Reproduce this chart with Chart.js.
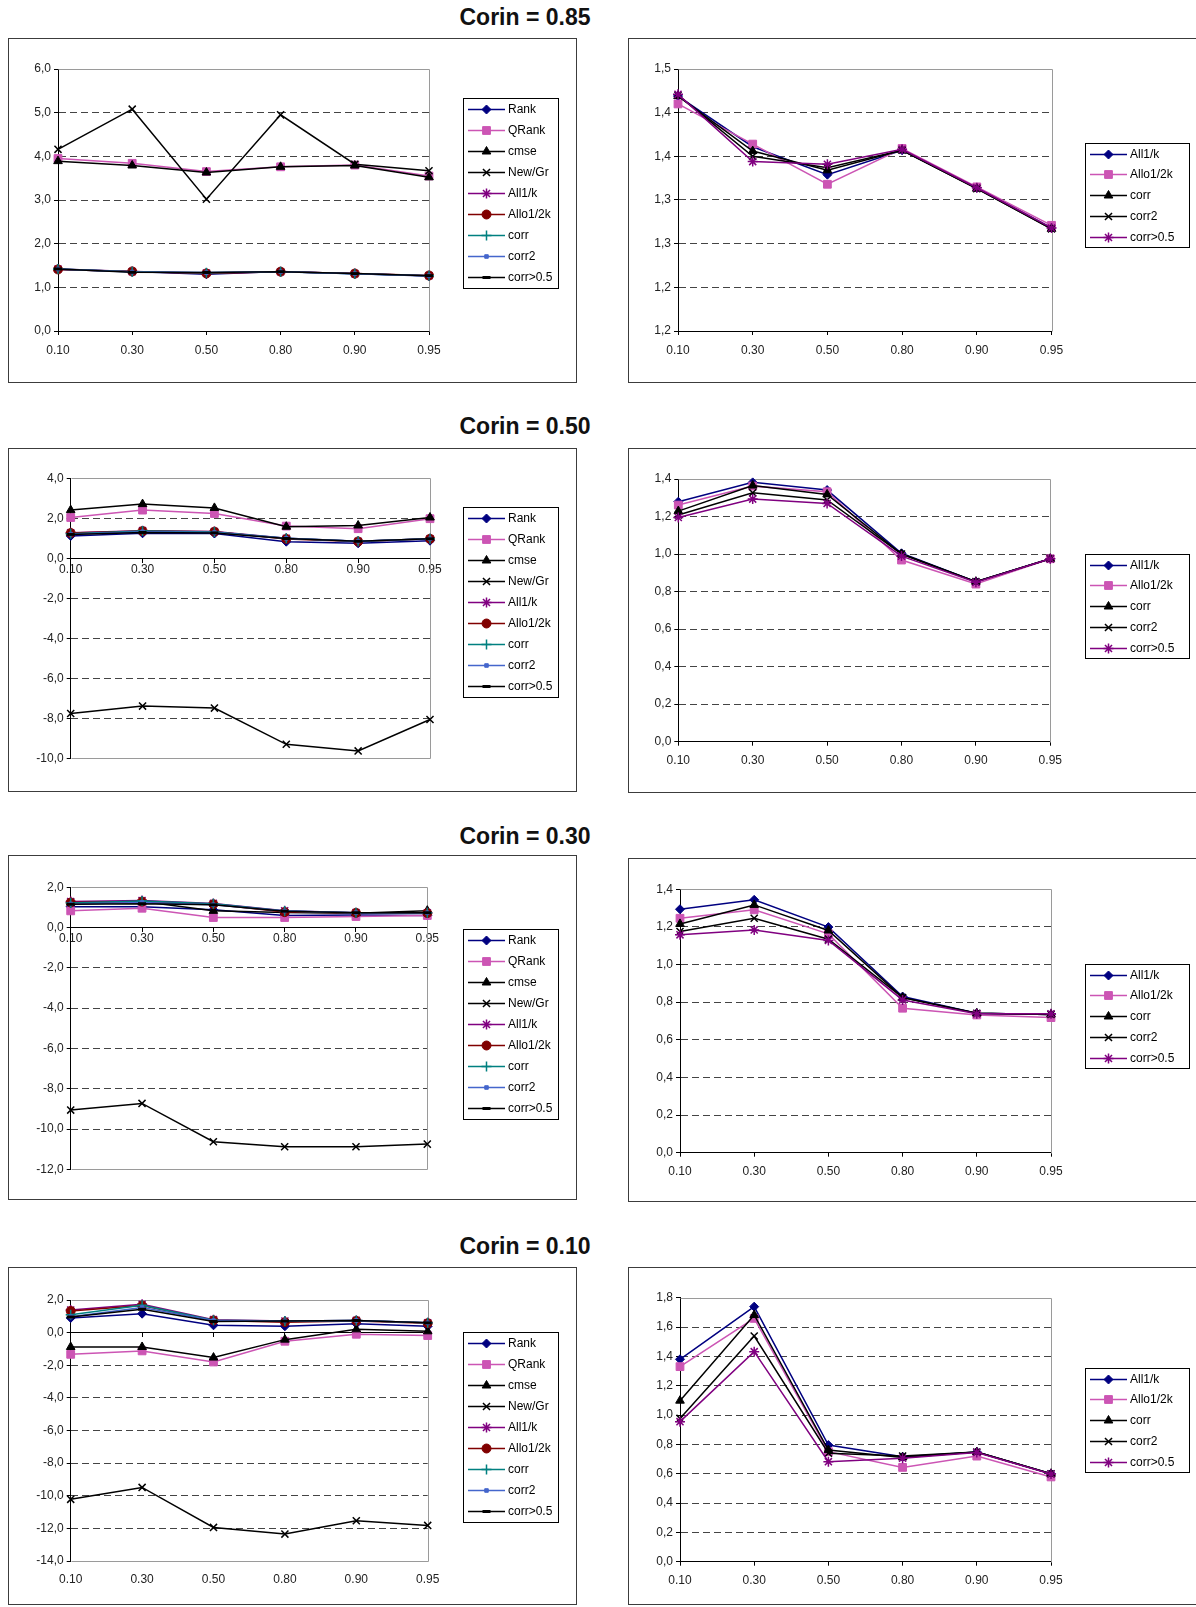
<!DOCTYPE html>
<html>
<head>
<meta charset="utf-8">
<script src="https://cdn.jsdelivr.net/npm/chart.js@4.4.1/dist/chart.umd.min.js"></script>
<style>
  body { margin: 0; background: #fff; width: 1196px; height: 1607px; position: relative; overflow: hidden;
         font-family: "Liberation Sans", Arial, sans-serif; }
  .title { position: absolute; left: 325px; width: 400px; text-align: center; font-weight: bold;
           font-size: 23px; line-height: 26px; color: #111; }
  .panel { position: absolute; border: 1px solid #3c3c3c; box-sizing: border-box; background: #fff; }
  .panel canvas { position: absolute; left: 0; top: 0; }
</style>
</head>
<body>
<div class="title" style="top:4px">Corin = 0.85</div>
<div class="title" style="top:413px">Corin = 0.50</div>
<div class="title" style="top:823px">Corin = 0.30</div>
<div class="title" style="top:1233px">Corin = 0.10</div>

<script>
const xLabels = ['0.10', '0.30', '0.50', '0.80', '0.90', '0.95'];
const leftNames = ['Rank', 'QRank', 'cmse', 'New/Gr', 'All1/k', 'Allo1/2k', 'corr', 'corr2', 'corr>0.5'];
const rightNames = ['All1/k', 'Allo1/2k', 'corr', 'corr2', 'corr>0.5'];

// Corin = 0.85
const rank85    = [1.41, 1.36, 1.30, 1.36, 1.31, 1.26];
const qrank85   = [3.95, 3.84, 3.65, 3.76, 3.80, 3.55];
const cmse85    = [3.89, 3.79, 3.63, 3.76, 3.79, 3.52];
const newgr85   = [4.16, 5.08, 3.02, 4.95, 3.82, 3.67];
const all1k85   = [1.419, 1.361, 1.329, 1.357, 1.314, 1.268];
const allo12k85 = [1.410, 1.364, 1.318, 1.359, 1.315, 1.271];
const corr85    = [1.419, 1.356, 1.334, 1.357, 1.313, 1.267];
const corr2_85  = [1.420, 1.350, 1.337, 1.357, 1.313, 1.267];
const corrGt85  = [1.421, 1.344, 1.341, 1.358, 1.314, 1.268];

// Corin = 0.50
const rank50    = [1.12, 1.25, 1.24, 0.83, 0.75, 0.88];
const qrank50   = [2.04, 2.41, 2.24, 1.61, 1.48, 1.98];
const cmse50    = [2.41, 2.71, 2.52, 1.58, 1.64, 2.04];
const newgr50   = [-7.76, -7.39, -7.49, -9.30, -9.63, -8.06];
const all1k50   = [1.279, 1.382, 1.341, 1.004, 0.853, 0.975];
const allo12k50 = [1.261, 1.362, 1.332, 0.968, 0.840, 0.975];
const corr50    = [1.229, 1.365, 1.318, 1.000, 0.853, 0.975];
const corr2_50  = [1.208, 1.327, 1.288, 1.000, 0.853, 0.975];
const corrGt50  = [1.195, 1.293, 1.270, 0.989, 0.850, 0.975];

// Corin = 0.30
const rank30    = [1.04, 1.04, 0.88, 0.60, 0.63, 0.60];
const qrank30   = [0.83, 0.96, 0.50, 0.50, 0.55, 0.60];
const cmse30    = [1.24, 1.29, 0.83, 0.75, 0.71, 0.84];
const newgr30   = [-9.06, -8.73, -10.63, -10.88, -10.88, -10.75];
const all1k30   = [1.294, 1.344, 1.199, 0.830, 0.741, 0.735];
const allo12k30 = [1.246, 1.291, 1.163, 0.768, 0.732, 0.718];
const corr30    = [1.216, 1.317, 1.181, 0.824, 0.741, 0.735];
const corr2_30  = [1.176, 1.246, 1.135, 0.824, 0.741, 0.735];
const corrGt30  = [1.158, 1.184, 1.128, 0.812, 0.738, 0.738];

// Corin = 0.10
const rank10    = [0.90, 1.16, 0.45, 0.39, 0.55, 0.39];
const qrank10   = [-1.33, -1.12, -1.80, -0.53, -0.10, -0.18];
const cmse10    = [-0.88, -0.88, -1.53, -0.43, 0.20, 0.08];
const newgr10   = [-10.22, -9.49, -11.94, -12.35, -11.53, -11.82];
const all1k10   = [1.380, 1.739, 0.795, 0.716, 0.748, 0.600];
const allo12k10 = [1.330, 1.659, 0.750, 0.643, 0.720, 0.578];
const corr10    = [1.098, 1.682, 0.761, 0.711, 0.748, 0.600];
const corr2_10  = [0.977, 1.539, 0.740, 0.720, 0.748, 0.600];
const corrGt10  = [0.955, 1.432, 0.682, 0.705, 0.745, 0.598];

// y axis ticks
const yTicks85L = [0, 1, 2, 3, 4, 5, 6];
const yTicks85R = [1.15, 1.2, 1.25, 1.3, 1.35, 1.4, 1.45];
const yLabels85R = ['1,2', '1,2', '1,3', '1,3', '1,4', '1,4', '1,5'];
const yTicks50L = [-10, -8, -6, -4, -2, 0, 2, 4];
const yTicks50R = [0, 0.2, 0.4, 0.6, 0.8, 1.0, 1.2, 1.4];
const yTicks30L = [-12, -10, -8, -6, -4, -2, 0, 2];
const yTicks30R = [0, 0.2, 0.4, 0.6, 0.8, 1.0, 1.2, 1.4];
const yTicks10L = [-14, -12, -10, -8, -6, -4, -2, 0, 2];
const yTicks10R = [0, 0.2, 0.4, 0.6, 0.8, 1.0, 1.2, 1.4, 1.6, 1.8];

const leftStyles = [
  { color: '#000080', point: 'rectRot', r: 4.5, bw: 1 },
  { color: '#cc55b4', point: 'rect', r: 5.5, bw: 1 },
  { color: '#000000', point: 'triangle', r: 5, bw: 1 },
  { color: '#000000', point: 'crossRot', r: 5, bw: 1.5 },
  { color: '#800080', point: 'star', r: 5, bw: 1.5 },
  { color: '#800000', point: 'circle', r: 4.5, bw: 1 },
  { color: '#008080', point: 'cross', r: 5, bw: 1.5 },
  { color: '#4466cc', point: 'rect', r: 2.5, bw: 1 },
  { color: '#000000', point: 'line', r: 4, bw: 3 }
];
const rightStyles = leftStyles.slice(0, 5);

const panels = [
  { box: [8, 38, 577, 383], plot: [58, 69, 429, 331], legend: [463, 98, 95, 190],
    names: leftNames, styles: leftStyles, ticks: yTicks85L,
    series: [rank85, qrank85, cmse85, newgr85, all1k85, allo12k85, corr85, corr2_85, corrGt85] },
  { box: [628, 38, 1200, 383], plot: [678, 69, 1051.5, 331], legend: [1085, 143, 104, 104],
    names: rightNames, styles: rightStyles, ticks: yTicks85R, labels: yLabels85R,
    series: [all1k85, allo12k85, corr85, corr2_85, corrGt85] },
  { box: [8, 448, 577, 792], plot: [70.7, 478.3, 430, 758.3], legend: [463, 507, 95, 190],
    names: leftNames, styles: leftStyles, ticks: yTicks50L, zeroAxis: true,
    series: [rank50, qrank50, cmse50, newgr50, all1k50, allo12k50, corr50, corr2_50, corrGt50] },
  { box: [628, 448, 1200, 793], plot: [678.3, 479, 1050.3, 741.7], legend: [1085, 554, 104, 104],
    names: rightNames, styles: rightStyles, ticks: yTicks50R,
    series: [all1k50, allo12k50, corr50, corr2_50, corrGt50] },
  { box: [8, 855, 577, 1200], plot: [70.7, 887.3, 427.3, 1169.3], legend: [463, 929, 95, 190],
    names: leftNames, styles: leftStyles, ticks: yTicks30L, zeroAxis: true,
    series: [rank30, qrank30, cmse30, newgr30, all1k30, allo12k30, corr30, corr2_30, corrGt30] },
  { box: [628, 858, 1200, 1202], plot: [680, 889.3, 1051, 1152.7], legend: [1085, 964, 104, 104],
    names: rightNames, styles: rightStyles, ticks: yTicks30R,
    series: [all1k30, allo12k30, corr30, corr2_30, corrGt30] },
  { box: [8, 1267, 577, 1605], plot: [70.7, 1300, 427.7, 1561], legend: [463, 1332, 95, 190],
    names: leftNames, styles: leftStyles, ticks: yTicks10L, zeroAxis: true, labelsLow: true,
    series: [rank10, qrank10, cmse10, newgr10, all1k10, allo12k10, corr10, corr2_10, corrGt10] },
  { box: [628, 1267, 1200, 1605], plot: [680, 1297.7, 1051, 1561.7], legend: [1085, 1368, 104, 104],
    names: rightNames, styles: rightStyles, ticks: yTicks10R,
    series: [all1k10, allo12k10, corr10, corr2_10, corrGt10] }
];

Chart.defaults.font.family = '"Liberation Sans", Arial, sans-serif';
Chart.defaults.font.size = 12;
Chart.defaults.color = '#222';

const Y_W = 45;   // fixed width of the y scale box
const X_H = 30;   // fixed height of a bottom x scale box

// grey frame on top / right (and bottom when the x axis sits at zero)
const framePlugin = {
  id: 'frame',
  beforeDatasetsDraw(chart, args, opts) {
    const a = chart.chartArea, ctx = chart.ctx;
    const l = Math.round(a.left) + 0.5, t = Math.round(a.top) + 0.5;
    const r = Math.round(a.right) + 0.5, b = Math.round(a.bottom) + 0.5;
    ctx.save();
    ctx.strokeStyle = '#9a9a9a';
    ctx.lineWidth = 1;
    ctx.beginPath();
    ctx.moveTo(l, t); ctx.lineTo(r, t); ctx.lineTo(r, b);
    if (opts.bottom) ctx.lineTo(l, b);
    ctx.stroke();
    ctx.restore();
  }
};

// Excel style boxed legend: line + marker + text
const boxLegend = {
  id: 'boxLegend',
  afterDraw(chart, args, o) {
    const ctx = chart.ctx;
    ctx.save();
    ctx.strokeStyle = '#000';
    ctx.lineWidth = 1;
    ctx.strokeRect(Math.round(o.x) + 0.5, Math.round(o.y) + 0.5, o.w, o.h);
    chart.data.datasets.forEach((ds, i) => {
      const cy = Math.round(o.y + o.first + i * o.rowH) + 0.5;
      ctx.strokeStyle = ds.borderColor;
      ctx.lineWidth = ds.borderWidth;
      ctx.beginPath();
      ctx.moveTo(o.x + 5, cy);
      ctx.lineTo(o.x + 42, cy);
      ctx.stroke();
      ctx.fillStyle = ds.pointBackgroundColor;
      ctx.strokeStyle = ds.pointBorderColor;
      ctx.lineWidth = ds.pointBorderWidth;
      if (Chart.helpers && Chart.helpers.drawPoint) {
        Chart.helpers.drawPoint(ctx, { pointStyle: ds.pointStyle, radius: ds.pointRadius, rotation: 0,
          borderWidth: ds.pointBorderWidth }, o.x + 23.5, cy);
      }
      ctx.fillStyle = '#000';
      ctx.font = '12px "Liberation Sans", Arial, sans-serif';
      ctx.textAlign = 'left';
      ctx.textBaseline = 'middle';
      ctx.fillText(ds.label, o.x + 45, cy);
    });
    ctx.restore();
  }
};

function fmt(v) {
  return v.toFixed(1).replace('.', ',');
}

panels.forEach(p => {
  const [x0, y0, x1, y1] = p.box;
  const div = document.createElement('div');
  div.className = 'panel';
  div.style.left = x0 + 'px';
  div.style.top = y0 + 'px';
  div.style.width = (x1 - x0) + 'px';
  div.style.height = (y1 - y0) + 'px';
  const cv = document.createElement('canvas');
  cv.width = x1 - x0 - 2;
  cv.height = y1 - y0 - 2;
  div.appendChild(cv);
  document.body.appendChild(div);

  const ox = x0 + 1, oy = y0 + 1;
  const bottomBox = (p.zeroAxis && !p.labelsLow) ? 0 : X_H;
  const pad = {
    left: p.plot[0] - ox - Y_W,
    top: p.plot[1] - oy,
    right: ox + cv.width - p.plot[2],
    bottom: oy + cv.height - p.plot[3] - bottomBox
  };
  const n = p.series.length;
  const yMin = p.ticks[0], yMax = p.ticks[p.ticks.length - 1];

  const datasets = p.series.map((data, i) => {
    const st = p.styles[i];
    return {
      label: p.names[i],
      data: data,
      borderColor: st.color,
      backgroundColor: st.color,
      borderWidth: 1.5,
      pointStyle: st.point,
      pointRadius: st.r,
      pointBorderWidth: st.bw,
      pointBackgroundColor: st.color,
      pointBorderColor: st.color,
      tension: 0,
      fill: false,
      clip: false,
      order: n - i
    };
  });

  const scales = {
    x: {
      type: 'category',
      labels: xLabels,
      offset: false,
      position: p.zeroAxis ? { y: 0 } : 'bottom',
      afterFit: s => { s.height = p.zeroAxis ? 0 : X_H; },
      grid: { display: true, drawOnChartArea: false, drawTicks: true, tickLength: 4, tickColor: '#000' },
      border: { display: true, color: '#000', width: 1 },
      ticks: { display: !p.labelsLow, color: '#222', padding: p.zeroAxis ? 0 : 8,
               maxRotation: 0, autoSkip: false }
    },
    y: {
      type: 'linear',
      position: 'left',
      min: yMin,
      max: yMax,
      afterBuildTicks: s => { s.ticks = p.ticks.map(v => ({ value: v })); },
      afterFit: s => { s.width = Y_W; },
      ticks: { color: '#222', padding: 3,
               callback: (v, i) => p.labels ? p.labels[i] : fmt(v) },
      grid: {
        color: c => (c.tick && (c.tick.value === yMin || c.tick.value === yMax || c.tick.value === 0))
          ? 'rgba(0,0,0,0)' : '#444',
        lineWidth: 1,
        drawTicks: true,
        tickLength: 4,
        tickColor: '#000'
      },
      border: { display: true, color: '#000', width: 1, dash: [7, 4] }
    }
  };
  if (p.labelsLow) {
    scales.x2 = {
      type: 'category',
      labels: xLabels,
      offset: false,
      position: 'bottom',
      afterFit: s => { s.height = X_H; },
      grid: { display: false, drawTicks: false },
      border: { display: false },
      ticks: { color: '#222', padding: 11, maxRotation: 0, autoSkip: false }
    };
  }

  new Chart(cv, {
    type: 'line',
    data: { labels: xLabels, datasets: datasets },
    plugins: [framePlugin, boxLegend],
    options: {
      responsive: false,
      animation: false,
      events: [],
      layout: { padding: pad },
      scales: scales,
      plugins: {
        legend: { display: false },
        tooltip: { enabled: false },
        frame: { bottom: !!p.zeroAxis },
        boxLegend: {
          x: p.legend[0] - ox, y: p.legend[1] - oy, w: p.legend[2], h: p.legend[3],
          first: n > 5 ? 11 : 10.5,
          rowH: n > 5 ? 21 : 20.8
        }
      }
    }
  });
});
</script>
</body>
</html>
